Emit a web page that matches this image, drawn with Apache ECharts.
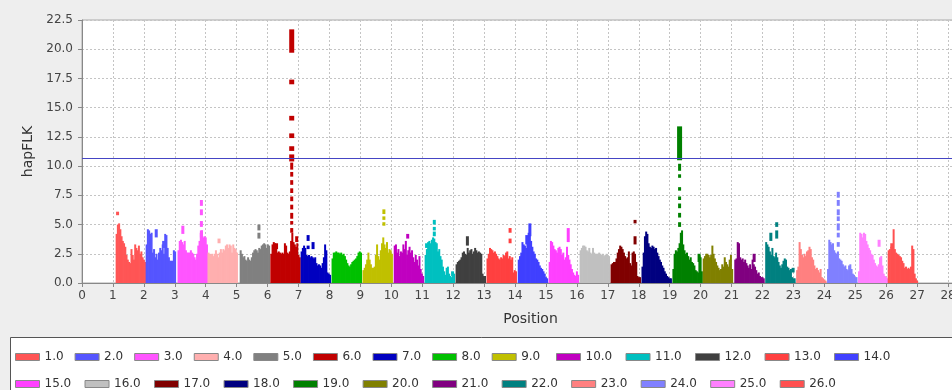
<!DOCTYPE html>
<html><head><meta charset="utf-8">
<script src="https://cdn.jsdelivr.net/npm/echarts@6/dist/echarts.min.js"></script>
<style>html,body{margin:0;padding:0;background:#eeeeee}#c{width:952px;height:390px}</style>
</head><body><div id="c"></div>
<script>
const chromNames = ['1.0','2.0','3.0','4.0','5.0','6.0','7.0','8.0','9.0','10.0','11.0','12.0','13.0','14.0','15.0','16.0','17.0','18.0','19.0','20.0','21.0','22.0','23.0','24.0','25.0','26.0'];
const chromColors = ['#ff5555','#5555ff','#ff55ff','#ffafaf','#808080','#c00000','#0000c0','#00c000','#c0c000','#c000c0','#00c0c0','#404040','#ff4040','#4040ff','#ff40ff','#c0c0c0','#800000','#000080','#008000','#808000','#800080','#008080','#ff8080','#8080ff','#ff80ff','#ff5050'];
const chromStart = [1.10,2.07,3.10,4.07,5.11,6.10,7.08,8.08,9.08,10.09,11.09,12.09,13.09,14.10,15.10,16.10,17.10,18.10,19.10,20.08,21.10,22.10,23.10,24.10,25.10,26.06];

const chr1 = [4.2,5.0,5.1,4.6,4.0,3.6,3.4,3.1,2.4,2.0,1.8,1.7,2.9,2.4,2.0,3.3,3.0,2.8,3.2,2.5,2.7,2.2,2.0,1.8];
const chr2 = [3.3,4.6,4.5,4.2,4.3,2.6,2.9,2.2,2.5,2.0,2.6,3.0,2.8,3.3,2.5,4.2,4.1,3.0,2.2,1.9,1.9,1.9,2.8,2.7];
const chr3 = [2.8,3.6,3.7,3.5,3.3,3.6,2.8,2.6,2.6,2.6,2.8,2.6,2.5,2.2,2.0,2.5,3.2,3.6,4.3,4.5,3.9,4.0,3.9,3.3];
const chr4 = [2.6,2.5,2.4,2.5,2.3,2.5,2.8,2.5,2.2,2.6,2.9,2.6,2.9,2.8,3.2,3.3,3.0,3.3,3.2,2.6,3.3,3.0,2.9,2.6];
const chr5 = [2.8,2.5,2.2,2.3,2.0,1.9,2.2,2.0,1.9,2.2,2.6,2.8,2.9,2.8,2.6,3.0,2.9,3.2,3.3,3.4,3.3,3.0,3.3,3.2];
const chr6 = [2.5,3.3,3.5,3.4,3.0,2.6,2.7,2.6,2.5,2.6,2.5,3.4,3.2,2.6,2.5,2.7,3.6,4.3,3.5,3.3,3.1,3.4,2.4,2.2];
const chr7 = [2.7,3.0,3.2,3.0,2.4,2.3,2.4,2.2,2.3,2.2,2.1,2.2,1.7,1.5,1.6,1.5,1.3,1.7,2.2,3.3,2.8,0.9,0.8,0.7];
const chr8 = [2.1,2.6,2.6,2.7,2.6,2.6,2.5,2.6,2.4,2.5,2.3,2.0,1.7,1.5,1.4,1.6,1.8,1.9,2.0,2.1,2.3,2.6,2.7,2.6];
const chr9 = [1.1,1.3,1.6,2.0,2.6,2.0,1.6,1.3,1.3,1.4,2.4,3.3,2.3,2.0,2.8,3.4,3.9,3.3,3.0,3.5,2.6,2.9,2.8,2.5];
const chr10 = [3.2,3.3,2.6,2.9,2.3,2.7,2.6,3.3,2.9,3.6,2.4,2.8,3.1,2.6,2.8,2.2,1.8,2.4,2.0,1.5,2.3,1.2,0.8,0.6];
const chr11 = [2.4,2.9,3.5,3.6,3.4,3.7,3.9,3.8,3.5,3.4,2.7,2.9,2.3,2.0,1.4,1.0,0.7,1.3,1.4,0.8,0.6,0.5,0.6,0.8];
const chr12 = [1.6,1.8,1.9,2.0,2.2,2.6,2.7,2.5,2.4,3.0,2.6,2.8,2.9,2.5,2.7,3.0,2.8,2.6,2.7,2.6,2.5,0.8,0.6,0.6];
const chr13 = [2.1,2.5,3.0,2.9,2.8,2.6,2.7,2.5,2.3,2.1,2.0,2.2,2.1,2.4,2.3,2.6,2.7,2.1,2.3,2.0,2.2,0.9,1.1,1.0];
const chr14 = [2.0,2.3,2.6,3.5,3.3,3.2,3.0,3.8,4.3,4.6,3.6,3.1,2.7,2.5,2.1,2.0,1.8,1.5,1.3,1.2,1.0,0.8,0.5,0.4];
const chr15 = [1.8,3.6,3.5,3.2,2.9,2.8,2.6,3.0,3.1,2.9,2.4,2.6,2.0,2.2,3.1,2.4,2.0,1.6,1.2,0.9,0.7,0.6,1.0,0.7];
const chr16 = [2.8,3.0,3.2,3.2,3.1,2.8,2.7,3.0,2.6,2.5,3.0,2.6,2.5,2.5,2.5,2.6,2.5,2.4,2.5,2.3,2.4,2.5,2.4,2.3];
const chr17 = [1.6,1.7,1.8,1.8,2.1,2.6,2.9,3.2,3.1,2.9,2.6,2.3,2.1,2.2,2.7,1.7,1.5,2.6,2.7,2.5,1.8,0.6,0.5,0.5];
const chr18 = [1.4,2.6,4.0,4.4,4.2,3.4,3.1,3.0,3.2,3.1,2.9,3.0,2.6,2.3,2.0,1.8,1.5,1.3,1.0,0.8,0.6,0.5,0.4,0.4];
const chr19 = [1.2,2.5,2.8,2.7,3.0,3.4,4.3,4.5,3.3,2.8,2.5,2.6,2.3,2.0,2.2,1.8,1.7,1.5,1.1,1.0,0.9,2.4,2.2,1.0];
const chr20 = [2.1,2.3,2.5,2.5,2.4,2.2,2.4,3.2,2.5,2.1,1.8,1.5,1.3,1.1,1.2,1.6,1.4,2.2,1.8,1.6,1.4,2.0,2.4,1.2];
const chr21 = [2.0,2.1,3.5,3.4,2.2,2.0,2.1,1.8,2.0,1.7,1.5,1.3,1.6,1.2,2.0,1.6,1.4,1.1,0.8,0.9,0.6,0.5,0.5,0.4];
const chr22 = [3.5,3.3,3.1,2.7,2.4,3.0,2.3,2.2,2.6,2.2,1.8,1.5,1.3,1.6,1.9,2.1,2.0,1.4,1.3,1.1,1.2,0.5,0.4,0.4];
const chr23 = [1.1,1.4,3.5,2.9,2.4,2.2,2.5,2.3,2.7,2.8,3.1,2.9,2.2,2.0,1.5,1.2,1.3,1.1,0.9,1.2,0.5,0.4,0.3,0.2];
const chr24 = [1.2,3.7,3.5,3.3,3.4,2.8,2.6,2.5,2.7,2.1,2.0,1.9,1.6,1.4,1.5,1.2,1.1,1.5,1.6,1.2,0.8,0.7,0.5,0.5];
const chr25 = [1.0,4.3,4.2,3.9,4.3,4.2,3.6,3.3,3.0,2.8,2.5,2.4,2.0,1.7,1.5,1.4,1.6,2.2,2.3,1.5,0.8,0.6,0.5,0.4];
const chr26 = [2.8,2.9,3.1,3.2,4.6,2.9,2.6,2.5,2.4,2.3,2.2,1.9,1.7,1.3,1.4,1.2,1.3,1.2,1.4,3.2,2.9,0.8,0.4,0.2];

// isolated marks above the bars: [chromosome, position, low, high]
const dashes = [
  [1,1.15,5.8,6.1],
  [2,2.40,3.9,4.6],[2,2.64,3.0,3.6],
  [3,3.26,4.2,4.9],[3,3.86,6.6,7.1],[3,3.86,5.8,6.3],[3,3.86,4.8,5.3],[3,3.86,3.9,4.5],
  [4,4.43,3.4,3.8],
  [5,5.72,4.5,5.0],[5,5.72,3.8,4.3],
  [6,6.29,2.9,3.4],[6,6.94,3.5,4.0],
  [6,6.78,4.3,4.7],[6,6.78,5.0,5.3],[6,6.78,5.5,6.0],[6,6.78,6.3,6.7],[6,6.78,7.0,7.4],[6,6.78,7.7,8.1],[6,6.78,8.4,8.8],[6,6.78,9.1,9.5],[6,6.78,9.7,10.3],
  [7,7.31,3.6,4.1],[7,7.31,2.9,3.2],[7,7.47,2.9,3.5],
  [9,9.76,5.9,6.3],[9,9.76,5.4,5.7],[9,9.76,4.9,5.2],
  [10,10.53,3.8,4.2],
  [11,11.39,5.0,5.4],[11,11.39,4.5,4.8],[11,11.39,4.0,4.4],[11,11.14,3.0,3.4],[11,11.98,0.6,1.0],
  [12,12.46,3.2,4.0],
  [13,13.84,4.3,4.7],[13,13.84,3.4,3.8],
  [14,14.38,3.3,4.1],[14,14.48,4.0,5.1],
  [15,15.72,3.5,4.7],
  [17,17.88,5.1,5.4],[17,17.88,3.3,4.0],
  [19,19.32,9.6,10.2],[19,19.32,9.0,9.3],[19,19.32,7.9,8.2],[19,19.32,7.1,7.4],[19,19.32,6.4,6.8],[19,19.32,5.6,6.0],[19,19.32,4.8,5.2],[19,19.95,1.8,2.5],
  [21,21.73,1.8,2.5],
  [22,22.27,3.6,4.3],[22,22.46,4.8,5.2],[22,22.46,3.8,4.5],[22,22.99,0.9,1.3],
  [24,24.45,7.3,7.8],[24,24.45,6.6,7.1],[24,24.45,5.8,6.3],[24,24.45,5.3,5.7],[24,24.45,4.5,5.1],[24,24.45,3.9,4.3],[24,24.45,3.1,3.5],
  [25,25.77,3.1,3.7],
  [26,26.18,3.0,3.4]
];
// wide blocks at the two main peaks: [chromosome, position, low, high]
const blocks = [
  [6,6.78,10.4,11.0],[6,6.78,11.3,11.7],[6,6.78,12.4,12.8],[6,6.78,13.9,14.3],[6,6.78,17.0,17.4],[6,6.78,19.7,21.7],
  [19,19.32,10.5,13.4]
];
const threshold = 10.7;

const chromValues = [chr1,chr2,chr3,chr4,chr5,chr6,chr7,chr8,chr9,chr10,chr11,chr12,chr13,chr14,chr15,chr16,chr17,chr18,chr19,chr20,chr21,chr22,chr23,chr24,chr25,chr26];
const STEP = 0.04;

function markSeries(name, color, data, w) {
  return {
    type: 'custom', name, data, z: 3, itemStyle: {color},
    encode: {x: 0, y: [1, 2]},
    renderItem(params, api) {
      const lo = api.coord([api.value(0), api.value(1)]);
      const hi = api.coord([api.value(0), api.value(2)]);
      return {type: 'rect', shape: {x: lo[0] - w / 2, y: hi[1], width: w, height: lo[1] - hi[1]}, style: {fill: color}};
    }
  };
}

const series = [];
chromValues.forEach((vals, k) => {
  const chr = k + 1, name = chromNames[k], color = chromColors[k];
  series.push({
    type: 'bar', name, barWidth: 2, barGap: '-100%', z: 2,
    itemStyle: {color},
    data: vals.map((v, i) => [chromStart[k] + STEP / 2 + i * STEP, v])
  });
  const d = dashes.filter(m => m[0] === chr).map(m => [m[1], m[2], m[3]]);
  if (d.length) series.push(markSeries(name, color, d, 3));
  const b = blocks.filter(m => m[0] === chr).map(m => [m[1], m[2], m[3]]);
  if (b.length) series.push(markSeries(name, color, b, 5));
});
series[0].markLine = {
  silent: true, symbol: 'none', label: {show: false},
  lineStyle: {color: '#4545c4', width: 1, type: 'solid'},
  data: [{yAxis: threshold}]
};

const legendBase = {
  itemWidth: 24, itemHeight: 7, itemGap: 11, icon: 'rect',
  textStyle: {fontSize: 12, color: '#333', fontFamily: 'DejaVu Sans'},
  itemStyle: {borderColor: '#888', borderWidth: 1},
  selectedMode: true
};

const chart = echarts.init(document.getElementById('c'));
chart.setOption({
  animation: false,
  backgroundColor: '#eeeeee',
  textStyle: {fontFamily: 'DejaVu Sans'},
  graphic: [{
    type: 'rect', z: -10,
    shape: {x: 10.5, y: 337.5, width: 980, height: 80},
    style: {fill: '#ffffff', stroke: '#555555', lineWidth: 1}
  }],
  legend: [
    Object.assign({}, legendBase, {data: chromNames.slice(0, 9), left: 10, top: 346}),
    Object.assign({}, legendBase, {data: chromNames.slice(9, 14), left: 551, top: 346, itemGap: 13.3}),
    Object.assign({}, legendBase, {data: chromNames.slice(14), left: 10, top: 373, itemGap: 13.3})
  ],
  grid: {left: 82, top: 20, width: 897, height: 263, containLabel: false, outerBoundsMode: 'none',
         show: true, backgroundColor: '#ffffff', borderColor: '#aaaaaa', borderWidth: 1},
  xAxis: {
    type: 'value', min: 0, max: 29, interval: 1,
    name: 'Position', nameLocation: 'middle', nameGap: 29,
    nameTextStyle: {fontSize: 14, color: '#333'},
    axisLine: {lineStyle: {color: '#888'}},
    axisTick: {show: true, length: 4, lineStyle: {color: '#888'}},
    axisLabel: {fontSize: 12, color: '#444', margin: 7, hideOverlap: false},
    splitLine: {show: true, lineStyle: {color: '#c4c4c4', type: [2, 2]}}
  },
  yAxis: {
    type: 'value', min: 0, max: 22.5, interval: 2.5,
    name: 'hapFLK', nameLocation: 'middle', nameGap: 36,
    nameTextStyle: {fontSize: 14, color: '#333'},
    axisLine: {show: true, lineStyle: {color: '#888'}},
    axisTick: {show: true, length: 4, lineStyle: {color: '#888'}},
    axisLabel: {fontSize: 12, color: '#444', margin: 9, formatter: v => v.toFixed(1)},
    splitLine: {show: true, lineStyle: {color: '#c4c4c4', type: [2, 2]}}
  },
  series
});
</script>
</body></html>
